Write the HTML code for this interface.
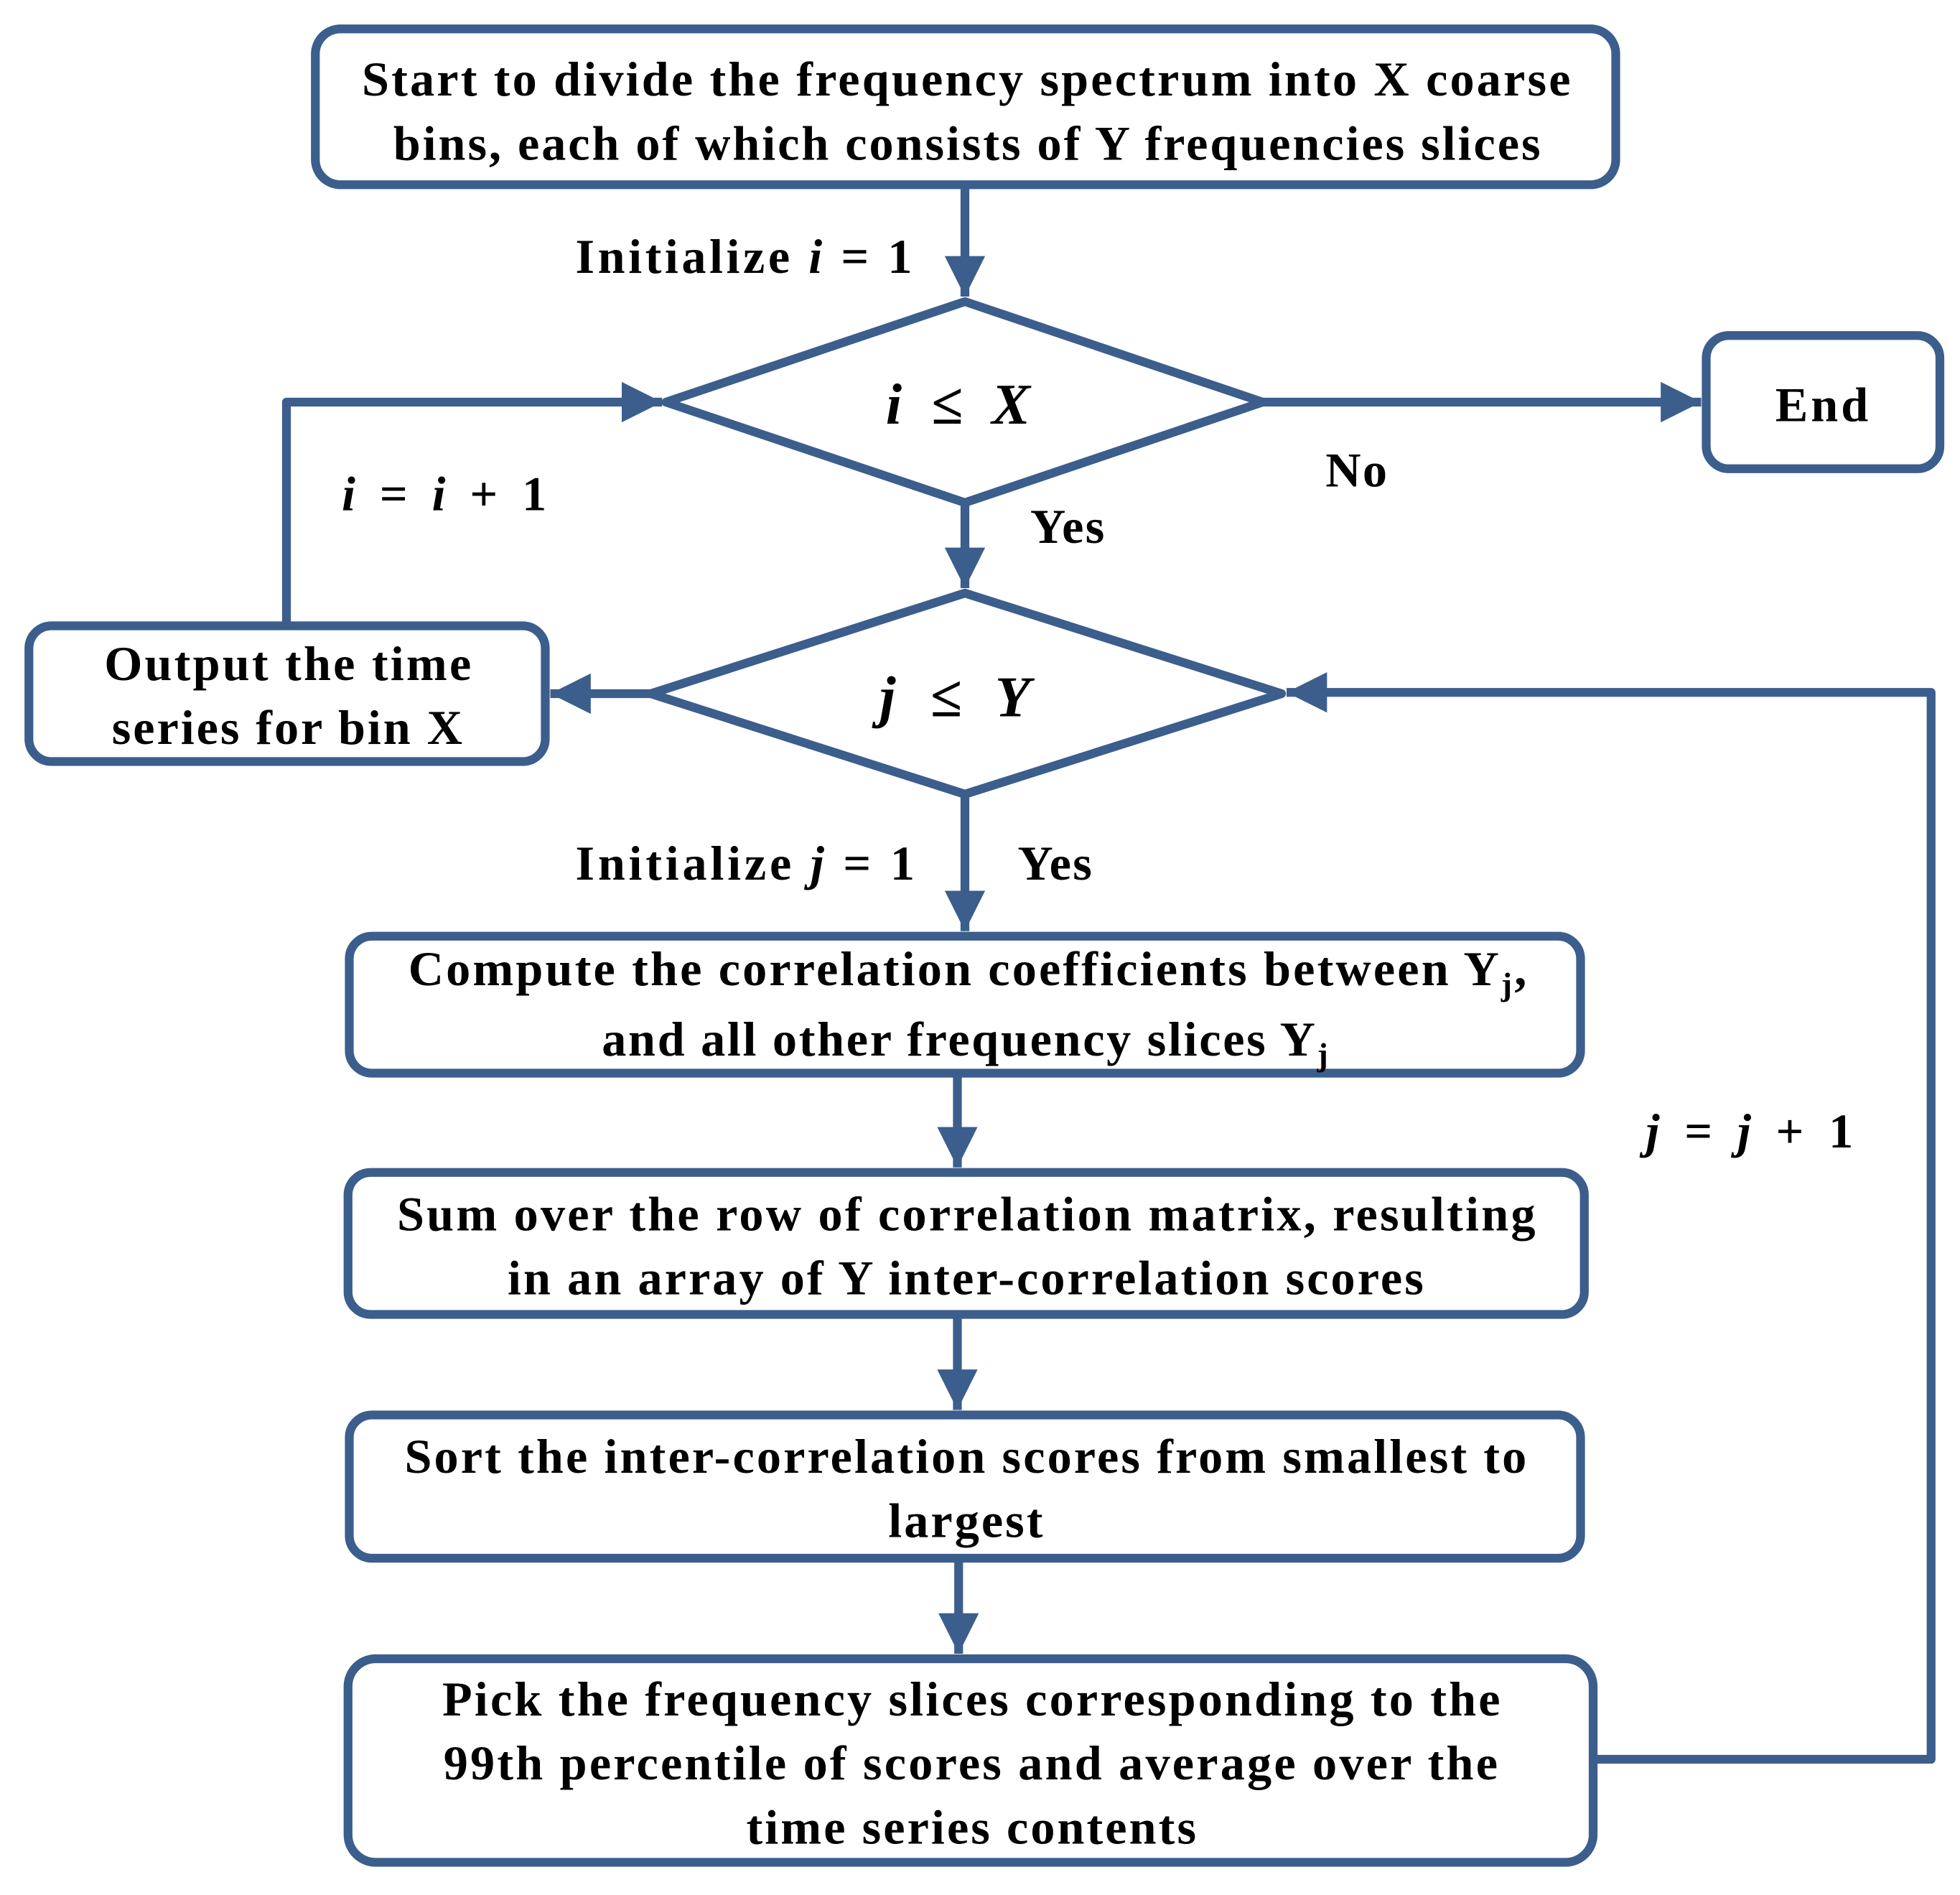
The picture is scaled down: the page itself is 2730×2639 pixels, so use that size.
<!DOCTYPE html>
<html><head><meta charset="utf-8"><style>
html,body{margin:0;padding:0;background:#fff;}
svg{display:block;}
text{font-family:"Liberation Serif",serif;font-weight:bold;fill:#000;}
</style></head><body>
<svg width="2730" height="2639" viewBox="0 0 1560 1508" xmlns="http://www.w3.org/2000/svg">
<defs>
<marker id="ah" viewBox="0 0 10 10" refX="10" refY="5" markerWidth="4.6" markerHeight="4.6" orient="auto" markerUnits="strokeWidth">
<path d="M0,0 L10,5 L0,10 z" fill="#3b5e8c"/></marker>
</defs>
<g fill="none" stroke="#3b5e8c" stroke-width="7" stroke-linejoin="round">
<rect x="251" y="23" width="1035" height="124" rx="20"/>
<rect x="1358" y="267" width="186" height="106" rx="18"/>
<rect x="23" y="498" width="411" height="108" rx="18"/>
<rect x="278" y="745" width="980" height="109" rx="18"/>
<rect x="277" y="933" width="984" height="113" rx="18"/>
<rect x="278" y="1126" width="980" height="114" rx="18"/>
<rect x="277" y="1320" width="991" height="162" rx="22"/>
<polygon points="530,320 768,240 1005,320 768,400"/>
<polygon points="518,552 768,472 1020,552 768,632"/>
<line x1="768" y1="147" x2="768" y2="236" marker-end="url(#ah)"/>
<line x1="1005" y1="320" x2="1354" y2="320" marker-end="url(#ah)"/>
<line x1="768" y1="400" x2="768" y2="468" marker-end="url(#ah)"/>
<line x1="518" y1="552" x2="438" y2="552" marker-end="url(#ah)"/>
<polyline points="228,498 228,320 527,320" marker-end="url(#ah)"/>
<line x1="768" y1="632" x2="768" y2="741" marker-end="url(#ah)"/>
<line x1="762" y1="854" x2="762" y2="929" marker-end="url(#ah)"/>
<line x1="762" y1="1046" x2="762" y2="1122" marker-end="url(#ah)"/>
<line x1="763" y1="1240" x2="763" y2="1316" marker-end="url(#ah)"/>
<polyline points="1268,1400 1537,1400 1537,551 1024,551" marker-end="url(#ah)"/>
</g>
<g font-size="39" lengthAdjust="spacing">
<text x="288" y="76" textLength="962">Start to divide the frequency spectrum into X coarse</text>
<text x="313" y="127" textLength="913">bins, each of which consists of Y frequencies slices</text>
<text x="1413" y="335" textLength="74">End</text>
<text x="83" y="541" textLength="292">Output the time</text>
<text x="89" y="592" textLength="279">series for bin X</text>
<text x="325" y="784" textLength="890">Compute the correlation coefficients between Y<tspan font-size="26" dy="8">j</tspan><tspan dy="-8">,</tspan></text>
<text x="479" y="840" textLength="578">and all other frequency slices Y<tspan font-size="26" dy="8">j</tspan></text>
<text x="316" y="979" textLength="906">Sum over the row of correlation matrix, resulting</text>
<text x="404" y="1030" textLength="729">in an array of Y inter-correlation scores</text>
<text x="322" y="1172" textLength="893">Sort the inter-correlation scores from smallest to</text>
<text x="707" y="1223" textLength="123">largest</text>
<text x="352" y="1365" textLength="842">Pick the frequency slices corresponding to the</text>
<text x="353" y="1416" textLength="839">99th percentile of scores and average over the</text>
<text x="594" y="1467" textLength="358">time series contents</text>
<text x="458" y="217" textLength="268">Initialize <tspan font-style="italic">i</tspan> = 1</text>
<text x="1055" y="387" textLength="49">No</text>
<text x="820" y="432" textLength="59">Yes</text>
<text x="272" y="406" textLength="163"><tspan font-style="italic">i</tspan> = <tspan font-style="italic">i</tspan> + 1</text>
<text x="458" y="700" textLength="270">Initialize <tspan font-style="italic">j</tspan> = 1</text>
<text x="810" y="700" textLength="59">Yes</text>
<text x="1310" y="913" textLength="165"><tspan font-style="italic">j</tspan> = <tspan font-style="italic">j</tspan> + 1</text>
</g>
<g font-size="46" font-style="italic" lengthAdjust="spacing">
<text x="705" y="337" textLength="115">i ≤ X</text>
<text x="700" y="570" textLength="120">j ≤ Y</text>
</g>
</svg>
</body></html>
